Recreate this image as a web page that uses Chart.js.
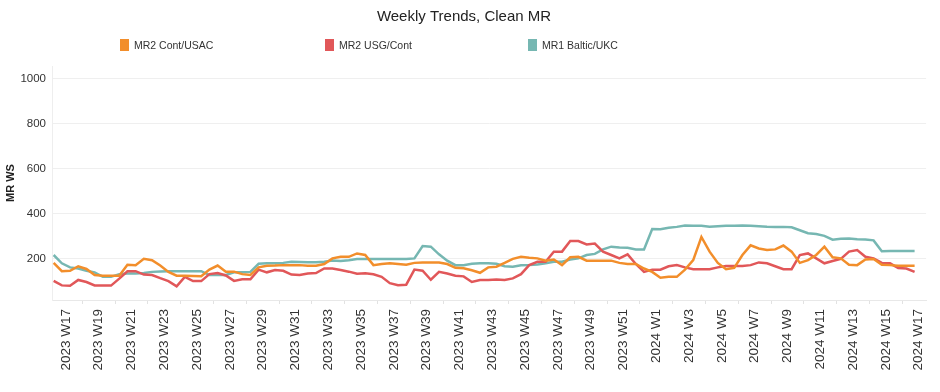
<!DOCTYPE html>
<html>
<head>
<meta charset="utf-8">
<script src="https://cdn.jsdelivr.net/npm/chart.js@4"></script>
<style>
  body { margin: 0; background: #fff; }
  #wrap { position: relative; width: 940px; height: 392px; }
  .leg { position: absolute; top: 39px; font: 10.5px "Liberation Sans", Arial, sans-serif; color: #333; line-height: 13px; }
  .leg span { display: inline-block; width: 9px; height: 12px; vertical-align: top; margin-right: 5px; }
</style>
</head>
<body>
<div id="wrap">
  <canvas id="myChart" width="940" height="392"></canvas>
</div>
<script>
// week index 0 = 2023 W17, sampled every half week
var weekPos = [-0.75,-0.25,0.25,0.75,1.25,1.75,2.25,2.75,3.25,3.75,
  4.25,4.75,5.25,5.75,6.25,6.75,7.25,7.75,8.25,8.75,
  9.25,9.75,10.25,10.75,11.25,11.75,12.25,12.75,13.25,13.75,
  14.25,14.75,15.25,15.75,16.25,16.75,17.25,17.75,18.25,18.75,
  19.25,19.75,20.25,20.75,21.25,21.75,22.25,22.75,23.25,23.75,
  24.25,24.75,25.25,25.75,26.25,26.75,27.25,27.75,28.25,28.75,
  29.25,29.75,30.25,30.75,31.25,31.75,32.25,32.75,33.25,33.75,
  34.25,34.75,35.25,35.75,36.25,36.75,37.25,37.75,38.25,38.75,
  39.25,39.75,40.25,40.75,41.25,41.75,42.25,42.75,43.25,43.75,
  44.25,44.75,45.25,45.75,46.25,46.75,47.25,47.75,48.25,48.75,
  49.25,49.75,50.25,50.75,51.25,51.75];

var contUsac = [180,143,145,165,153,126,123,123,123,172,
  170,198,192,168,140,123,123,122,121,150,
  168,141,141,130,126,160,167,168,170,170,
  170,167,167,175,200,207,207,222,215,170,
  175,178,175,172,180,182,182,182,175,158,
  156,147,136,160,163,180,198,207,203,200,
  190,195,170,205,207,190,190,190,190,180,
  175,175,155,140,114,118,118,150,192,295,
  230,180,152,158,215,258,244,237,240,257,
  230,180,192,215,252,205,200,172,170,195,
  197,172,170,167,167,167];

var usgCont = [100,80,78,104,95,80,80,79,110,143,
  143,128,126,112,99,76,118,99,99,130,
  135,124,100,107,107,150,138,148,145,128,
  126,133,135,155,155,148,141,132,134,129,
  118,90,81,83,150,145,105,140,133,123,
  120,95,104,104,106,104,111,130,170,185,
  185,230,230,277,277,262,266,230,215,200,
  218,175,140,150,150,165,170,160,152,152,
  152,160,166,166,166,170,182,178,165,152,
  152,215,222,200,178,188,198,230,237,207,
  200,180,178,157,155,140];

var balticUkc = [215,178,160,155,145,138,118,118,130,133,
  133,135,140,142,143,143,143,143,143,126,
  126,126,138,138,140,176,178,178,180,185,
  184,183,183,185,190,188,192,197,197,197,
  197,197,197,197,200,255,252,218,190,170,
  170,176,178,178,176,165,163,169,170,173,
  178,185,185,195,200,215,220,240,252,248,
  247,240,240,330,329,336,340,346,345,345,
  341,343,345,345,346,345,343,341,340,340,
  338,325,312,308,300,283,287,288,285,284,
  280,232,233,233,233,233];

var tickLabels = ['2023 W17','2023 W19','2023 W21','2023 W23','2023 W25','2023 W27','2023 W29',
  '2023 W31','2023 W33','2023 W35','2023 W37','2023 W39','2023 W41','2023 W43','2023 W45',
  '2023 W47','2023 W49','2023 W51','2024 W1','2024 W3','2024 W5','2024 W7','2024 W9',
  '2024 W11','2024 W13','2024 W15','2024 W17'];

var seriesNames = ['MR2 Cont/USAC', 'MR2 USG/Cont', 'MR1 Baltic/UKC'];
var seriesColors = ['#F28E2B', '#E15759', '#76B7B2'];
var legendLeft = [120, 325, 528];
var yTicks = [200, 400, 600, 800, 1000];

var allSeries = [contUsac, usgCont, balticUkc];
var fontFam = '"Liberation Sans", Arial, sans-serif';

var wrap = document.getElementById('wrap');
seriesNames.forEach(function (name, i) {
    var d = document.createElement('div');
    d.className = 'leg';
    d.style.left = legendLeft[i] + 'px';
    d.innerHTML = '<span style="background:' + seriesColors[i] + '"></span>' + name;
    wrap.appendChild(d);
});

var datasets = allSeries.map(function (vals, i) {
    return {
        label: seriesNames[i],
        data: weekPos.map(function (w, j) { return { x: w, y: vals[j] }; }),
        borderColor: seriesColors[i],
        backgroundColor: seriesColors[i],
        borderWidth: 2.5,
        pointRadius: 0,
        tension: 0,
        fill: false
    };
});

new Chart("myChart", {
    type: "line",
    data: { datasets: datasets },
    options: {
        responsive: false,
        animation: false,
        layout: { padding: { top: 0, right: 12, bottom: 0, left: 0 } },
        plugins: {
            legend: { display: false },
            tooltip: { enabled: false },
            title: {
                display: true,
                text: "Weekly Trends, Clean MR",
                color: '#222',
                font: { family: fontFam, size: 15, weight: 'normal' },
                padding: { top: 8, bottom: 40 }
            }
        },
        scales: {
            x: {
                type: 'linear',
                min: -0.85,
                max: 52.45,
                afterBuildTicks: function (s) {
                    var t = [];
                    for (var i = 0; i <= 52; i++) t.push({ value: i });
                    s.ticks = t;
                },
                afterFit: function (s) { s.height = 92; },
                ticks: {
                    autoSkip: false,
                    maxRotation: 90,
                    minRotation: 90,
                    padding: 5,
                    color: '#333',
                    font: { family: fontFam, size: 13.5 },
                    callback: function (v) { return v % 2 === 0 ? tickLabels[v / 2] : ''; }
                },
                grid: {
                    drawOnChartArea: false,
                    tickLength: 4,
                    color: function (c) { return c.tick && c.tick.value % 2 === 1 ? '#e2e2e2' : 'rgba(0,0,0,0)'; }
                },
                border: { color: '#e8e8e8' }
            },
            y: {
                min: 15,
                max: 1055,
                afterBuildTicks: function (s) {
                    s.ticks = yTicks.map(function (v) { return { value: v }; });
                },
                afterFit: function (s) { s.width = 52; },
                title: {
                    display: true,
                    text: 'MR WS',
                    color: '#222',
                    font: { family: fontFam, size: 11, weight: 'bold' },
                    padding: { top: 4, bottom: 0 }
                },
                ticks: {
                    padding: 6,
                    color: '#333',
                    font: { family: fontFam, size: 11.5 },
                    callback: function (v) { return String(v); }
                },
                grid: { color: '#efefef', drawTicks: false },
                border: { color: '#eeeeee' }
            }
        }
    }
});
</script>
</body>
</html>
